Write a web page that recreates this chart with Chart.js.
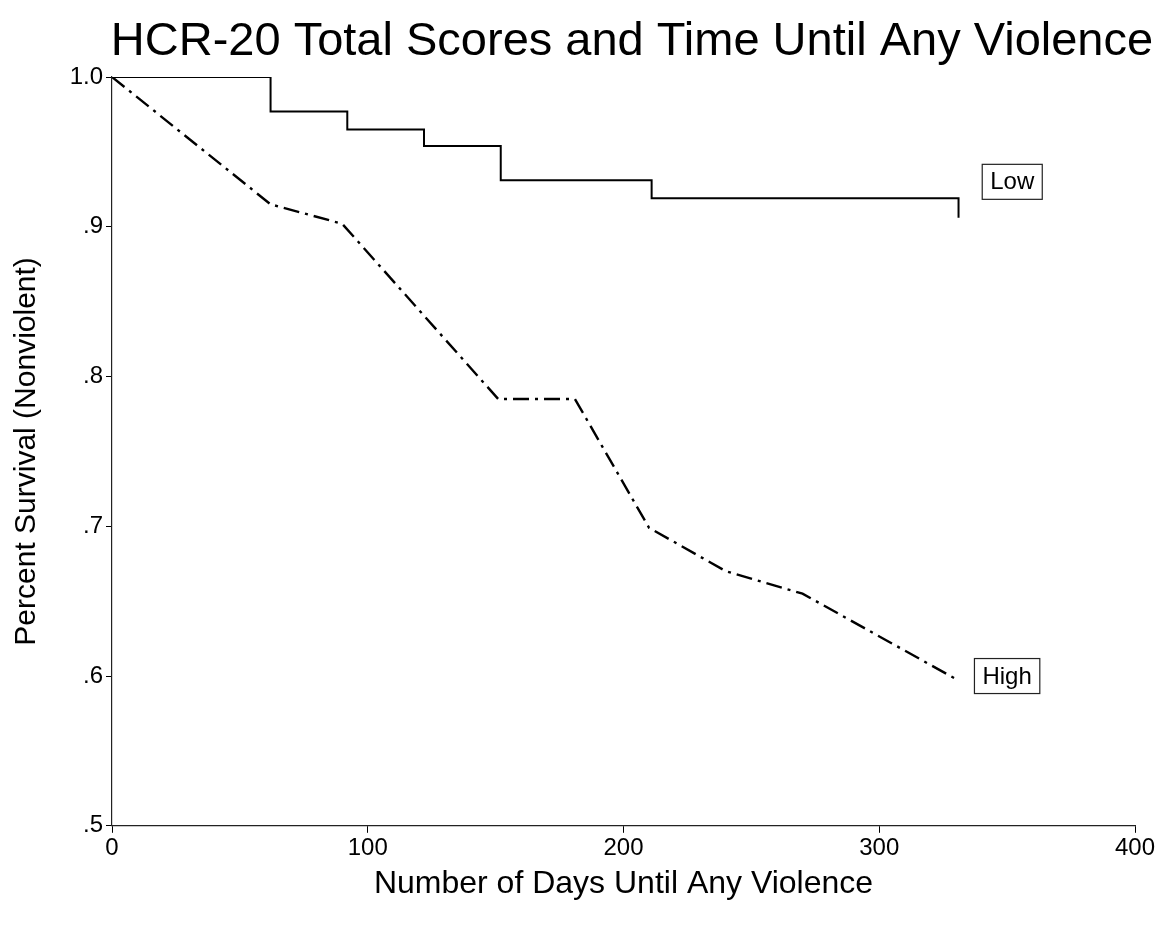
<!DOCTYPE html>
<html>
<head>
<meta charset="utf-8">
<script src="https://cdn.jsdelivr.net/npm/chart.js@4"></script>
<style>
  html, body { margin: 0; padding: 0; background: #fff; }
  #wrap { width: 1175px; height: 939px; }
</style>
</head>
<body>
<div id="wrap"><canvas id="survivalChart"></canvas></div>
<script>
// Kaplan-Meier style survival
const lowDays = [0, 62, 92, 122, 152, 211, 331];
const lowSurvival = [1.0, 0.977, 0.965, 0.954, 0.931, 0.919, 0.906];

const highDays = [0, 62, 90, 151, 181, 210, 240, 270, 331];
const highSurvival = [1.0, 0.915, 0.902, 0.785, 0.785, 0.699, 0.67, 0.655, 0.597];

const yTicks = [0.5, 0.6, 0.7, 0.8, 0.9, 1.0];
const xTicks = [0, 100, 200, 300, 400];

// boxed curve labels (day, survival)
const labelNames = ["Low", "High"];
const labelDays = [352, 350];
const labelValues = [0.93, 0.6];

const chartTitle = "HCR-20 Total Scores and Time Until Any Violence";

const FONT = "'Liberation Sans', Arial, sans-serif";

const toPoints = (xs, ys) => xs.map((x, i) => ({ x, y: ys[i] }));

// title is drawn by hand so it can sit right of centre like the original
const titlePlugin = {
  id: "titlePlugin",
  afterDraw(chart) {
    const { ctx } = chart;
    ctx.save();
    ctx.font = "47px " + FONT;
    ctx.fillStyle = "#000";
    ctx.textAlign = "center";
    ctx.textBaseline = "middle";
    ctx.fillText(chartTitle, 632, 42);
    ctx.restore();
  },
};

const boxLabels = {
  id: "boxLabels",
  afterDatasetsDraw(chart) {
    const { ctx, scales } = chart;
    ctx.save();
    ctx.font = "24px " + FONT;
    ctx.textAlign = "center";
    ctx.textBaseline = "middle";
    labelNames.forEach((name, i) => {
      const cx = scales.x.getPixelForValue(labelDays[i]);
      const cy = scales.y.getPixelForValue(labelValues[i]);
      const w = ctx.measureText(name).width + 16;
      const h = 35;
      ctx.fillStyle = "#fff";
      ctx.fillRect(cx - w / 2, cy - h / 2, w, h);
      ctx.strokeStyle = "#222";
      ctx.lineWidth = 1.2;
      ctx.strokeRect(cx - w / 2, cy - h / 2, w, h);
      ctx.fillStyle = "#000";
      ctx.fillText(name, cx, cy + 1);
    });
    ctx.restore();
  },
};

const ctx = document.getElementById("survivalChart").getContext("2d");
new Chart(ctx, {
  type: "line",
  data: {
    datasets: [
      {
        label: "Low",
        data: toPoints(lowDays, lowSurvival),
        stepped: "before",
        borderColor: "#000",
        borderWidth: 2,
        pointRadius: 0,
        fill: false,
      },
      {
        label: "High",
        data: toPoints(highDays, highSurvival),
        borderColor: "#000",
        borderWidth: 2.4,
        borderDash: [16, 6, 3, 6],
        pointRadius: 0,
        tension: 0,
        fill: false,
      },
    ],
  },
  options: {
    responsive: true,
    maintainAspectRatio: false,
    animation: false,
    layout: { padding: { left: 0, right: 40, top: 77, bottom: 36 } },
    plugins: {
      legend: { display: false },
      tooltip: { enabled: false },
      title: { display: false },
    },
    scales: {
      x: {
        type: "linear",
        min: 0,
        max: 400,
        afterBuildTicks: (scale) => {
          scale.ticks = xTicks.map((v) => ({ value: v }));
        },
        ticks: {
          color: "#000",
          font: { family: FONT, size: 24 },
          padding: 1,
          maxRotation: 0,
        },
        grid: { display: true, drawOnChartArea: false, color: "#000", tickLength: 7 },
        border: { display: true, color: "#222", width: 1.2 },
        title: {
          display: true,
          text: "Number of Days Until Any Violence",
          color: "#000",
          font: { family: FONT, size: 32 },
          padding: { top: 1, bottom: 0 },
        },
      },
      y: {
        type: "linear",
        min: 0.5,
        max: 1.0,
        afterBuildTicks: (scale) => {
          scale.ticks = yTicks.map((v) => ({ value: v }));
        },
        afterFit: (scale) => {
          scale.width = 112;
        },
        ticks: {
          color: "#000",
          font: { family: FONT, size: 24 },
          padding: 3,
          callback: (v) => (v === 1 ? "1.0" : v.toFixed(1).replace(/^0/, "")),
        },
        grid: { display: true, drawOnChartArea: false, color: "#000", tickLength: 6 },
        border: { display: true, color: "#222", width: 1.2 },
        title: {
          display: true,
          text: "Percent Survival (Nonviolent)",
          color: "#000",
          font: { family: FONT, size: 30 },
          padding: { top: 9, bottom: 0 },
        },
      },
    },
  },
  plugins: [boxLabels, titlePlugin],
});
</script>
</body>
</html>
